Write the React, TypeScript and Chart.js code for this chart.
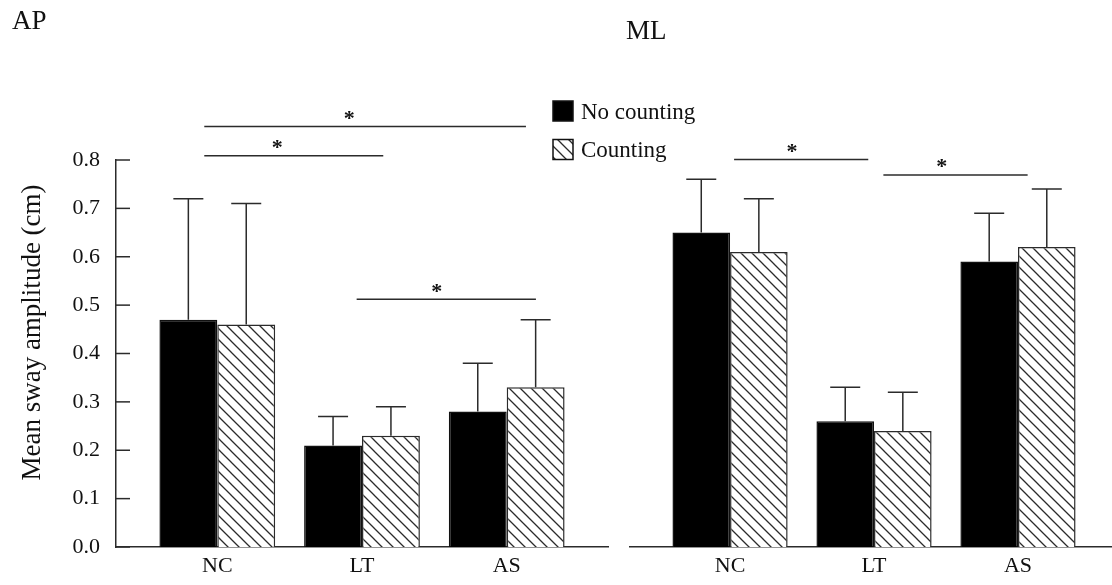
import React, { useEffect, useRef } from 'react';
import { Chart, registerables } from 'chart.js';

Chart.register(...registerables);

const FONT = "'Liberation Serif', 'Times New Roman', serif";
const INK = '#111111';
const LINE = '#2b2b2b';

// ---- data ----
const categories = ['NC', 'LT', 'AS'];
const categoryPositions = [1, 2, 3];
const seriesLabels = ['No counting', 'Counting'];
const yTickValues = [0, 0.1, 0.2, 0.3, 0.4, 0.5, 0.6, 0.7, 0.8];
const yAxisTitle = 'Mean sway amplitude (cm)';
const panelTitles = ['AP', 'ML'];

const apNoCounting = [0.47, 0.21, 0.28];
const apNoCountingSD = [0.25, 0.06, 0.1];
const apCounting = [0.46, 0.23, 0.33];
const apCountingSD = [0.25, 0.06, 0.14];

const mlNoCounting = [0.65, 0.26, 0.59];
const mlNoCountingSD = [0.11, 0.07, 0.1];
const mlCounting = [0.61, 0.24, 0.62];
const mlCountingSD = [0.11, 0.08, 0.12];

// significance brackets (x in category units, y in cm)
const apSigFrom = [0.91, 0.91, 1.963];
const apSigTo = [3.133, 2.147, 3.202];
const apSigY = [0.869, 0.809, 0.512];
const apSigStar = [1.912, 1.415, 2.516];

const mlSigFrom = [1.028, 2.065];
const mlSigTo = [1.96, 3.067];
const mlSigY = [0.801, 0.769];
const mlSigStar = [1.431, 2.47];

type PanelSpec = {
  noCounting: number[];
  noCountingSD: number[];
  counting: number[];
  countingSD: number[];
  sigFrom: number[];
  sigTo: number[];
  sigY: number[];
  sigStar: number[];
  xMin: number;
  xMax: number;
  showY: boolean;
  padding: { left: number; right: number; top: number; bottom: number };
  legend: boolean;
};

function makeHatch(): CanvasPattern | string {
  const c = document.createElement('canvas');
  const s = 11;
  c.width = s;
  c.height = s;
  const g = c.getContext('2d');
  if (!g) return '#fff';
  g.fillStyle = '#ffffff';
  g.fillRect(0, 0, s, s);
  g.strokeStyle = LINE;
  g.lineWidth = 1.3;
  g.beginPath();
  g.moveTo(0, 0);
  g.lineTo(s, s);
  g.moveTo(-2, s - 2);
  g.lineTo(2, s + 2);
  g.moveTo(s - 2, -2);
  g.lineTo(s + 2, 2);
  g.stroke();
  return g.createPattern(c, 'repeat') || '#fff';
}

function buildChart(canvas: HTMLCanvasElement, spec: PanelSpec): Chart {
  const hatch = makeHatch();

  const decor = {
    id: 'decor',
    beforeDatasetsDraw(chart: any) {
      if (!spec.showY) return;
      const { ctx, chartArea } = chart;
      const y = chart.scales.y;
      ctx.save();
      ctx.strokeStyle = LINE;
      ctx.lineWidth = 1.5;
      yTickValues.forEach((v) => {
        const py = y.getPixelForValue(v);
        ctx.beginPath();
        ctx.moveTo(chartArea.left, py);
        ctx.lineTo(chartArea.left + 14, py);
        ctx.stroke();
      });
      ctx.restore();
    },
    afterDatasetsDraw(chart: any) {
      const { ctx } = chart;
      const x = chart.scales.x;
      const y = chart.scales.y;
      ctx.save();
      ctx.strokeStyle = LINE;
      ctx.lineWidth = 1.5;
      // error bars (upper only)
      chart.data.datasets.forEach((ds: any, di: number) => {
        const meta = chart.getDatasetMeta(di);
        meta.data.forEach((bar: any, i: number) => {
          const v = ds.data[i].y;
          const top = y.getPixelForValue(v + ds.sd[i]);
          ctx.beginPath();
          ctx.moveTo(bar.x, bar.y);
          ctx.lineTo(bar.x, top);
          ctx.moveTo(bar.x - 15, top);
          ctx.lineTo(bar.x + 15, top);
          ctx.stroke();
        });
      });
      // significance lines
      ctx.fillStyle = INK;
      ctx.font = `bold 22px ${FONT}`;
      ctx.textAlign = 'center';
      ctx.textBaseline = 'alphabetic';
      spec.sigY.forEach((sv, i) => {
        const py = y.getPixelForValue(sv);
        ctx.beginPath();
        ctx.moveTo(x.getPixelForValue(spec.sigFrom[i]), py);
        ctx.lineTo(x.getPixelForValue(spec.sigTo[i]), py);
        ctx.stroke();
        ctx.fillText('*', x.getPixelForValue(spec.sigStar[i]), py - 1.5);
      });
      ctx.restore();
    },
    afterDraw(chart: any) {
      const { ctx } = chart;
      if (spec.legend) {
        ctx.save();
        chart.data.datasets.forEach((ds: any, i: number) => {
          const bx = 553;
          const by = 101 + i * 38.5;
          ctx.fillStyle = ds.backgroundColor;
          ctx.fillRect(bx, by, 20, 20);
          ctx.strokeStyle = '#111';
          ctx.lineWidth = 1.5;
          ctx.strokeRect(bx, by, 20, 20);
          ctx.fillStyle = INK;
          ctx.font = `23px ${FONT}`;
          ctx.textAlign = 'left';
          ctx.textBaseline = 'alphabetic';
          ctx.fillText(ds.label, 581, 119 + i * 37.5);
        });
        ctx.restore();
      }
      if (spec.showY) {
        ctx.save();
        ctx.translate(39.5, 332.5);
        ctx.rotate(-Math.PI / 2);
        ctx.fillStyle = INK;
        ctx.font = `27px ${FONT}`;
        ctx.textAlign = 'center';
        ctx.textBaseline = 'alphabetic';
        ctx.fillText(yAxisTitle, 0, 0);
        ctx.restore();
      }
    },
  };

  const makeData = (vals: number[]) => categoryPositions.map((cx, i) => ({ x: cx, y: vals[i] }));

  return new Chart(canvas, {
    type: 'bar',
    data: {
      datasets: [
        {
          label: seriesLabels[0],
          data: makeData(spec.noCounting),
          sd: spec.noCountingSD,
          backgroundColor: '#000000',
          borderColor: '#111',
          borderWidth: 1.5,
          categoryPercentage: 0.8,
          barPercentage: 1.0,
        } as any,
        {
          label: seriesLabels[1],
          data: makeData(spec.counting),
          sd: spec.countingSD,
          backgroundColor: hatch,
          borderColor: LINE,
          borderWidth: 1.5,
          categoryPercentage: 0.8,
          barPercentage: 1.0,
        } as any,
      ],
    },
    options: {
      animation: false,
      responsive: false,
      maintainAspectRatio: false,
      devicePixelRatio: 1,
      layout: { padding: spec.padding },
      plugins: {
        legend: { display: false },
        tooltip: { enabled: false },
        title: { display: false },
      },
      scales: {
        x: {
          type: 'linear',
          min: spec.xMin,
          max: spec.xMax,
          offset: false,
          grid: { display: false, drawTicks: false },
          border: { display: true, color: LINE, width: 1.5 },
          ticks: {
            font: { family: FONT, size: 22 },
            color: INK,
            padding: 6,
            maxRotation: 0,
            autoSkip: false,
            callback: (v: any) => {
              const idx = categoryPositions.indexOf(Number(v));
              return idx >= 0 ? categories[idx] : '';
            },
          },
          afterBuildTicks: (s: any) => {
            s.ticks = categoryPositions.map((v) => ({ value: v }));
          },
          afterFit: (s: any) => {
            s.height = 38;
          },
        },
        y: {
          display: spec.showY,
          min: 0,
          max: 0.8,
          grid: { display: false, drawTicks: false },
          border: { display: true, color: LINE, width: 1.5 },
          ticks: {
            font: { family: FONT, size: 22 },
            color: INK,
            padding: 16,
            callback: (v: any) => Number(v).toFixed(1),
          },
          afterBuildTicks: (s: any) => {
            s.ticks = yTickValues.map((v) => ({ value: v }));
          },
          afterFit: (s: any) => {
            if (spec.showY) s.width = 116;
          },
        },
      },
    } as any,
    plugins: [decor],
  });
}

export default function App() {
  const leftRef = useRef<HTMLCanvasElement | null>(null);
  const rightRef = useRef<HTMLCanvasElement | null>(null);

  useEffect(() => {
    if (!leftRef.current || !rightRef.current) return;
    const left = buildChart(leftRef.current, {
      noCounting: apNoCounting,
      noCountingSD: apNoCountingSD,
      counting: apCounting,
      countingSD: apCountingSD,
      sigFrom: apSigFrom,
      sigTo: apSigTo,
      sigY: apSigY,
      sigStar: apSigStar,
      xMin: 0.3,
      xMax: 3.7,
      showY: true,
      padding: { left: 0, right: 92, top: 160, bottom: 0 },
      legend: true,
    });
    const right = buildChart(rightRef.current, {
      noCounting: mlNoCounting,
      noCountingSD: mlNoCountingSD,
      counting: mlCounting,
      countingSD: mlCountingSD,
      sigFrom: mlSigFrom,
      sigTo: mlSigTo,
      sigY: mlSigY,
      sigStar: mlSigStar,
      xMin: 0.305,
      xMax: 3.653,
      showY: false,
      padding: { left: 10, right: 0, top: 160, bottom: 0 },
      legend: false,
    });
    return () => {
      left.destroy();
      right.destroy();
    };
  }, []);

  const titleStyle: React.CSSProperties = {
    position: 'absolute',
    fontFamily: FONT,
    fontSize: 27,
    lineHeight: '27px',
    color: INK,
    margin: 0,
    whiteSpace: 'nowrap',
  };

  return (
    <div style={{ position: 'absolute', left: 0, top: 0, width: 1112, height: 585, background: '#fff', overflow: 'hidden' }}>
      <canvas
        ref={leftRef}
        width={700}
        height={585}
        style={{ position: 'absolute', left: 0, top: 0, width: 700, height: 585 }}
      />
      <canvas
        ref={rightRef}
        width={492}
        height={585}
        style={{ position: 'absolute', left: 620, top: 0, width: 492, height: 585 }}
      />
      <div style={{ ...titleStyle, left: 12, top: 6.7 }}>{panelTitles[0]}</div>
      <div style={{ ...titleStyle, left: 626, top: 16.7 }}>{panelTitles[1]}</div>
    </div>
  );
}
